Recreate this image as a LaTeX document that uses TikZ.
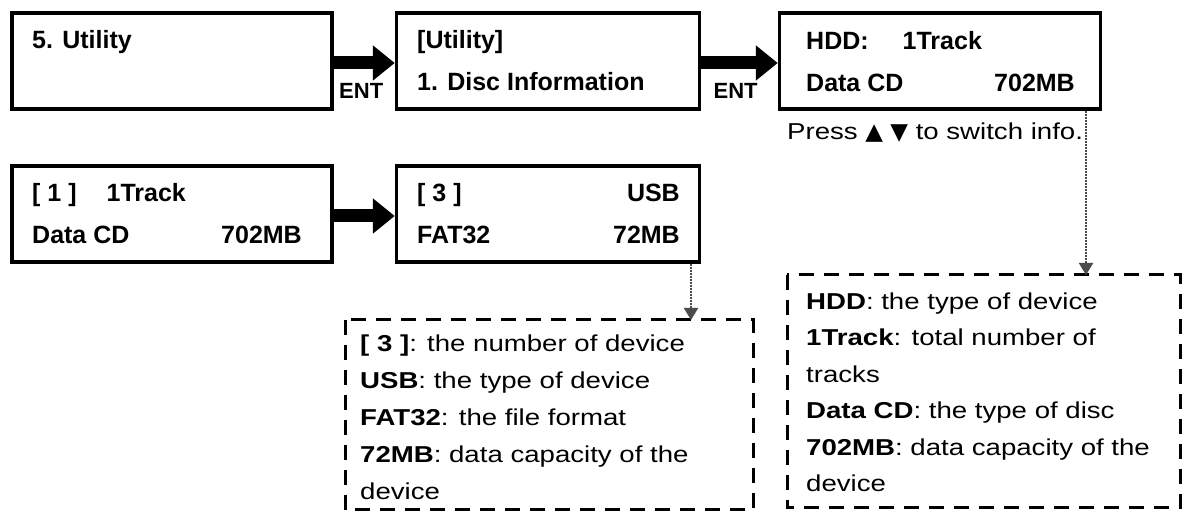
\documentclass[tikz,border=0pt]{standalone}
\usepackage{fontspec}
\setmainfont{Liberation Sans}
\newfontfamily\desc[FakeStretch=1.2]{Liberation Sans}
\newfontfamily\sym{DejaVu Sans}
\usetikzlibrary{arrows.meta}
\begin{document}
\begin{tikzpicture}[x=1pt,y=-1pt,
  lcd/.style={draw,line width=3.5pt,minimum height=96pt,inner sep=0pt},
  lt/.style={font=\fontsize{25}{25}\selectfont\bfseries,inner sep=0pt,anchor=base west},
  ltr/.style={lt,anchor=base east},
  big/.style={line width=13pt,-{Triangle[length=22pt,width=34pt]}},
  dbox/.style={draw,line width=3pt,dash pattern=on 15pt off 10pt},
  dl/.style={font=\desc\fontsize{23}{23}\selectfont,inner sep=0pt,anchor=base west},
  dot/.style={line width=2pt,densely dotted,gray!60!black,-{Triangle[length=12pt,width=14pt]}}]
\useasboundingbox (0,0) rectangle (1187,518);
\node[lcd,minimum width=320pt] (b1) at (172,61) {};
\node[lcd,minimum width=303pt] (b2) at (548,61) {};
\node[lcd,minimum width=321pt] (b3) at (940,61) {};
\node[lcd,minimum width=320pt] (b4) at (172,214) {};
\node[lcd,minimum width=303pt] (b5) at (548,214) {};
\node[lt] at (32,49) {5. Utility};
\node[lt] at (417,49) {[Utility]};
\node[lt] at (417,91) {1. Disc Information};
\node[lt] at (806,50) {HDD:\hspace{34pt}1Track};
\node[lt] at (806,92) {Data CD};
\node[ltr] at (1075,92) {702MB};
\node[lt] at (32,202) {[ 1 ]\hspace{30pt}1Track};
\node[lt] at (32,244) {Data CD};
\node[ltr] at (302,244) {702MB};
\node[lt] at (417,202) {[ 3 ]};
\node[ltr] at (680,202) {USB};
\node[lt] at (417,244) {FAT32};
\node[ltr] at (680,244) {72MB};
\draw[big] (b1.east|-0,63) -- (b2.west|-0,63) node[pos=0.45,below=11pt,font=\fontsize{22}{22}\selectfont\bfseries] (e1) {ENT};
\draw[big] (b2.east|-0,63) -- (b3.west|-0,63) node[pos=0.45,below=11pt,font=\fontsize{22}{22}\selectfont\bfseries] (e2) {ENT};
\draw[big] (b4.east|-0,216) -- (b5.west|-0,216);
\node[dl] (press) at (787,140) {Press {\sym ▲ ▼} to switch info.};
\draw[dbox] (345,320) rectangle (753,510);
\draw[dbox] (787,275) rectangle (1180,508);
\coordinate (r1) at (1086,275);
\coordinate (m1) at (691,320);
\draw[dot] (b3.south-|r1) -- (r1);
\draw[dot] (b5.south-|m1) -- (m1);
\node[dl] at (360,352) {\textbf{[ 3 ]}: the number of device};
\node[dl] at (360,389) {\textbf{USB}: the type of device};
\node[dl] at (360,426) {\textbf{FAT32}: the file format};
\node[dl] at (360,463) {\textbf{72MB}: data capacity of the};
\node[dl] at (360,500) {device};
\node[dl] at (806,310) {\textbf{HDD}: the type of device};
\node[dl] at (806,346) {\textbf{1Track}: total number of};
\node[dl] at (806,383) {tracks};
\node[dl] at (806,419) {\textbf{Data CD}: the type of disc};
\node[dl] at (806,456) {\textbf{702MB}: data capacity of the};
\node[dl] at (806,492) {device};
\end{tikzpicture}
\end{document}
